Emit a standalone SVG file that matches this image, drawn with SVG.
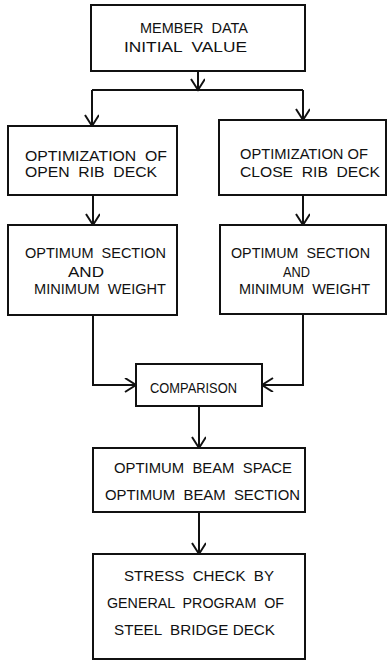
<svg xmlns="http://www.w3.org/2000/svg" width="387" height="661" viewBox="0 0 387 661">
<defs>
<marker id="ah" markerWidth="16" markerHeight="16" refX="12" refY="7" orient="auto" markerUnits="userSpaceOnUse">
<path d="M1,0 L12,7 L1,14" fill="none" stroke="#111" stroke-width="2"/>
</marker>
</defs>
<style>
.box{fill:#fff;stroke:#111;stroke-width:2}
.ln{fill:none;stroke:#111;stroke-width:2;marker-end:url(#ah)}
.ln0{fill:none;stroke:#111;stroke-width:2}
text{font-family:"Liberation Sans","DejaVu Sans",sans-serif;font-size:15.5px;fill:#111;white-space:pre}
</style>
<rect width="387" height="661" fill="#fff"/>
<g id="connectors">
<path class="ln" d="M198,71 V90"/>
<path class="ln0" d="M92,90 H303"/>
<path class="ln" d="M92,90 V126"/>
<path class="ln" d="M303,90 V120"/>
<path class="ln" d="M93,195 V225"/>
<path class="ln" d="M303,195 V225"/>
<path class="ln" d="M93,315 V385 H136"/>
<path class="ln" d="M303,314 V385 H262"/>
<path class="ln" d="M199,406 V448"/>
<path class="ln" d="M199,512 V554"/>
</g>
<g id="n1">
<rect class="box" x="91" y="5" width="214" height="66"/>
<text x="140" y="33" textLength="108" lengthAdjust="spacingAndGlyphs" xml:space="preserve">MEMBER  DATA</text>
<text x="124" y="52" textLength="123" lengthAdjust="spacingAndGlyphs" xml:space="preserve">INITIAL  VALUE</text>
</g>
<g id="n2">
<rect class="box" x="8" y="126" width="169" height="69"/>
<text x="25" y="161" textLength="142" lengthAdjust="spacingAndGlyphs" xml:space="preserve">OPTIMIZATION  OF</text>
<text x="25" y="177" textLength="132" lengthAdjust="spacingAndGlyphs" xml:space="preserve">OPEN  RIB  DECK</text>
</g>
<g id="n3">
<rect class="box" x="219" y="120" width="167" height="75"/>
<text x="240" y="159" textLength="128" lengthAdjust="spacingAndGlyphs" xml:space="preserve">OPTIMIZATION OF</text>
<text x="240" y="177" textLength="140" lengthAdjust="spacingAndGlyphs" xml:space="preserve">CLOSE  RIB  DECK</text>
</g>
<g id="n4">
<rect class="box" x="8" y="225" width="169" height="90"/>
<text x="25" y="258" textLength="141" lengthAdjust="spacingAndGlyphs" xml:space="preserve">OPTIMUM  SECTION</text>
<text x="68" y="277" textLength="36" lengthAdjust="spacingAndGlyphs">AND</text>
<text x="34" y="294" textLength="132" lengthAdjust="spacingAndGlyphs" xml:space="preserve">MINIMUM  WEIGHT</text>
</g>
<g id="n5">
<rect class="box" x="220" y="225" width="166" height="89"/>
<text x="231" y="258" textLength="139" lengthAdjust="spacingAndGlyphs" xml:space="preserve">OPTIMUM  SECTION</text>
<text x="283" y="277" textLength="27" lengthAdjust="spacingAndGlyphs">AND</text>
<text x="239" y="294" textLength="131" lengthAdjust="spacingAndGlyphs" xml:space="preserve">MINIMUM  WEIGHT</text>
</g>
<g id="n6">
<rect class="box" x="136" y="364" width="126" height="42"/>
<text x="150" y="393" textLength="87" lengthAdjust="spacingAndGlyphs">COMPARISON</text>
</g>
<g id="n7">
<rect class="box" x="93" y="448" width="212" height="64"/>
<text x="114" y="473" textLength="178" lengthAdjust="spacingAndGlyphs" xml:space="preserve">OPTIMUM  BEAM  SPACE</text>
<text x="105" y="500" textLength="195" lengthAdjust="spacingAndGlyphs" xml:space="preserve">OPTIMUM  BEAM  SECTION</text>
</g>
<g id="n8">
<rect class="box" x="93" y="554" width="212" height="105"/>
<text x="124" y="581" textLength="150" lengthAdjust="spacingAndGlyphs" xml:space="preserve">STRESS  CHECK  BY</text>
<text x="107" y="608" textLength="177" lengthAdjust="spacingAndGlyphs" xml:space="preserve">GENERAL  PROGRAM  OF</text>
<text x="114" y="635" textLength="161" lengthAdjust="spacingAndGlyphs" xml:space="preserve">STEEL  BRIDGE DECK</text>
</g>
</svg>
